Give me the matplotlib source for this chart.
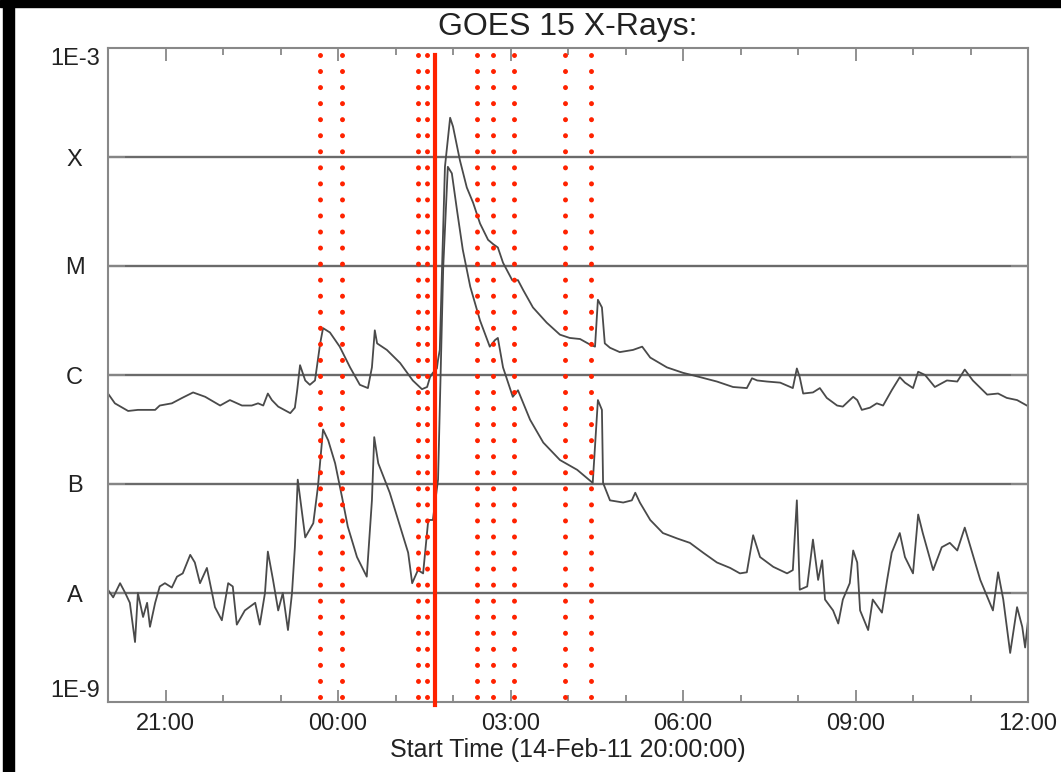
import matplotlib.pyplot as plt
import numpy as np
from matplotlib.patches import Rectangle

plt.rcParams['font.family'] = ['Liberation Sans', 'DejaVu Sans']

# time in hours after 14-Feb-11 20:00 UT, flux as log10(W/m^2)
long_t = [0.00, 0.12, 0.35, 0.52, 0.82, 0.90, 1.11, 1.29, 1.48, 1.69, 1.95, 2.12,
          2.33, 2.50, 2.61, 2.70, 2.78, 2.85, 2.96, 3.17, 3.25, 3.29, 3.34, 3.43,
          3.51, 3.60, 3.69, 3.74, 3.86, 4.03, 4.21, 4.38, 4.52, 4.59, 4.64, 4.68,
          4.85, 5.08, 5.30, 5.46, 5.55, 5.60, 5.65, 5.72, 5.74, 5.77, 5.81, 5.86,
          5.95, 6.00, 6.12, 6.24, 6.35, 6.47, 6.61, 6.70, 6.78, 6.87, 7.03, 7.13,
          7.22, 7.39, 7.63, 7.86, 8.03, 8.21, 8.38, 8.47, 8.52, 8.59, 8.64, 8.73,
          8.90, 9.13, 9.29, 9.43, 9.72, 10.00, 10.30, 10.59, 10.87, 11.11, 11.20,
          11.29, 11.46, 11.69, 11.91, 11.98, 12.03, 12.09, 12.26, 12.38, 12.50,
          12.68, 12.78, 12.96, 13.03, 13.11, 13.25, 13.37, 13.48, 13.63, 13.77,
          13.86, 14.00, 14.09, 14.21, 14.38, 14.59, 14.77, 14.90, 15.04, 15.29,
          15.48, 15.63, 15.81, 15.98]
long_logf = [-6.17, -6.26, -6.33, -6.32, -6.32, -6.28, -6.26, -6.21, -6.16, -6.20,
             -6.28, -6.23, -6.28, -6.28, -6.26, -6.28, -6.17, -6.23, -6.29, -6.35,
             -6.30, -6.14, -5.91, -6.05, -6.09, -6.05, -5.71, -5.57, -5.61, -5.74,
             -5.93, -6.09, -6.12, -5.93, -5.59, -5.71, -5.77, -5.89, -6.05, -6.13,
             -6.11, -6.02, -5.98, -5.94, -5.86, -5.77, -5.01, -4.09, -3.64, -3.72,
             -4.03, -4.28, -4.42, -4.61, -4.76, -4.80, -4.83, -4.97, -5.13, -5.13,
             -5.22, -5.38, -5.52, -5.63, -5.66, -5.67, -5.72, -5.74, -5.31, -5.38,
             -5.71, -5.75, -5.79, -5.77, -5.74, -5.84, -5.93, -5.98, -6.02, -6.06,
             -6.11, -6.12, -6.03, -6.05, -6.06, -6.07, -6.12, -5.94, -6.02, -6.17,
             -6.16, -6.12, -6.21, -6.28, -6.29, -6.20, -6.23, -6.32, -6.30, -6.26,
             -6.28, -6.14, -6.02, -6.07, -6.12, -5.97, -6.00, -6.11, -6.05, -6.06,
             -5.95, -6.05, -6.18, -6.17, -6.21, -6.23, -6.28]

short_t = [0.00, 0.09, 0.21, 0.30, 0.38, 0.47, 0.52, 0.61, 0.68, 0.73, 0.82, 0.90,
           0.99, 1.11, 1.20, 1.30, 1.43, 1.51, 1.60, 1.72, 1.86, 1.98, 2.09, 2.17,
           2.24, 2.38, 2.56, 2.64, 2.73, 2.78, 2.87, 2.96, 3.04, 3.13, 3.20, 3.25,
           3.30, 3.43, 3.57, 3.65, 3.74, 3.83, 3.95, 4.07, 4.17, 4.33, 4.50, 4.59,
           4.63, 4.70, 4.90, 5.08, 5.22, 5.29, 5.39, 5.48, 5.57, 5.65, 5.74, 5.83,
           5.91, 5.98, 6.07, 6.17, 6.30, 6.47, 6.64, 6.73, 6.78, 6.87, 7.04, 7.13,
           7.20, 7.34, 7.57, 7.86, 8.16, 8.43, 8.52, 8.59, 8.61, 8.73, 8.96, 9.11,
           9.17, 9.25, 9.43, 9.65, 9.90, 10.12, 10.35, 10.59, 10.82, 10.99, 11.11,
           11.22, 11.34, 11.57, 11.81, 11.91, 11.98, 12.03, 12.16, 12.26, 12.35,
           12.42, 12.47, 12.61, 12.70, 12.78, 12.90, 12.96, 13.03, 13.08, 13.22,
           13.30, 13.46, 13.55, 13.63, 13.77, 13.86, 14.00, 14.09, 14.17, 14.35,
           14.50, 14.64, 14.77, 14.90, 15.17, 15.39, 15.48, 15.57, 15.69, 15.81,
           15.90, 15.95, 16.00]
short_logf = [-7.97, -8.04, -7.91, -8.00, -8.09, -8.45, -8.00, -8.22, -8.09, -8.31,
              -8.09, -7.94, -7.91, -7.95, -7.85, -7.82, -7.65, -7.72, -7.91, -7.77,
              -8.13, -8.25, -7.91, -7.94, -8.29, -8.16, -8.09, -8.29, -8.00, -7.62,
              -7.88, -8.16, -8.00, -8.34, -8.00, -7.58, -6.96, -7.49, -7.36, -7.03,
              -6.50, -6.60, -6.81, -7.12, -7.39, -7.67, -7.85, -7.15, -6.57, -6.81,
              -7.08, -7.39, -7.63, -7.91, -7.79, -7.82, -7.33, -7.33, -6.96, -5.01,
              -4.09, -4.15, -4.49, -4.85, -5.19, -5.50, -5.74, -5.68, -5.66, -5.93,
              -6.20, -6.14, -6.23, -6.41, -6.62, -6.78, -6.87, -6.99, -6.23, -6.32,
              -6.99, -7.15, -7.17, -7.15, -7.08, -7.17, -7.33, -7.45, -7.50, -7.54,
              -7.63, -7.72, -7.77, -7.82, -7.81, -7.47, -7.67, -7.76, -7.82, -7.79,
              -7.15, -7.97, -7.94, -7.51, -7.88, -7.70, -8.06, -8.16, -8.28, -8.06,
              -7.91, -7.61, -7.72, -8.16, -8.34, -8.06, -8.18, -7.88, -7.63, -7.45,
              -7.67, -7.82, -7.28, -7.45, -7.79, -7.58, -7.54, -7.61, -7.40, -7.88,
              -8.16, -7.81, -8.06, -8.55, -8.13, -8.31, -8.50, -8.25]

# marked event times (hours after 20:00)
event_dotted = [3.69, 4.07, 5.39, 5.55, 6.42, 6.70, 7.06, 7.95, 8.40]
event_solid = 5.69

xtick_pos = [1, 4, 7, 10, 13, 16]
xtick_labels = ['21:00', '00:00', '03:00', '06:00', '09:00', '12:00']
ytick_pos = [1e-9, 1e-8, 1e-7, 1e-6, 1e-5, 1e-4, 1e-3]
ytick_labels = ['1E-9', 'A', 'B', 'C', 'M', 'X', '1E-3']

W, H = 1061, 772
fig = plt.figure(figsize=(W / 100, H / 100), dpi=100)
ax = fig.add_axes([108 / W, 1 - 702 / H, 920 / W, 654 / H])

ax.set_yscale('log')
ax.set_xlim(0, 16)
ax.set_ylim(1e-9, 1e-3)

for level in ytick_pos[1:-1]:
    ax.axhline(level, color='#6a6a6a', linewidth=1.7, zorder=1)

ax.plot(long_t, 10.0 ** np.array(long_logf), color='#4a4a4a', linewidth=1.3, zorder=2)
ax.plot(short_t, 10.0 ** np.array(short_logf), color='#4a4a4a', linewidth=1.3, zorder=2)

red = '#ff2200'
for t in event_dotted:
    ax.axvline(t, ymin=0.008, ymax=0.99, color=red, linewidth=3.6,
               linestyle=(0, (0.01, 3.2)), dash_capstyle='round', zorder=3)
ax.axvline(event_solid, ymin=-0.005, ymax=0.99, color=red, linewidth=3,
           clip_on=False, zorder=3)

ax.set_xticks(xtick_pos)
ax.set_xticklabels(xtick_labels)
ax.set_xticks(np.arange(0, 17, 1), minor=True)
ax.set_yticks(ytick_pos)
ax.set_yticklabels(ytick_labels)
ax.yaxis.set_minor_locator(plt.NullLocator())

ax.tick_params(axis='both', which='both', direction='in', colors='#888888',
               labelcolor='#222222', top=True, right=True, labelsize=17)
ax.tick_params(axis='x', which='major', length=9, width=1.3, pad=8)
ax.tick_params(axis='x', which='minor', length=5, width=1.3)
ax.tick_params(axis='y', which='major', length=12, width=1.3, pad=24)
for lab in ax.get_yticklabels():
    lab.set_horizontalalignment('center')
ylabs = ax.get_yticklabels()
ylabs[0].set_verticalalignment('bottom')
ylabs[-1].set_verticalalignment('top')

for s in ax.spines.values():
    s.set_color('#888888')
    s.set_linewidth(1.5)

ax.set_title('GOES 15 X-Rays:', fontsize=23, color='#222222', pad=9)
ax.set_xlabel('Start Time (14-Feb-11 20:00:00)', fontsize=18, color='#222222',
              labelpad=2)

# black screenshot border
fig.patches.append(Rectangle((0, 1 - 7 / H), 1, 7 / H, transform=fig.transFigure,
                             color='black', zorder=0))
fig.patches.append(Rectangle((3 / W, 0), 11 / W, 1, transform=fig.transFigure,
                             color='black', zorder=0))

fig.savefig('out.png', dpi=100)
